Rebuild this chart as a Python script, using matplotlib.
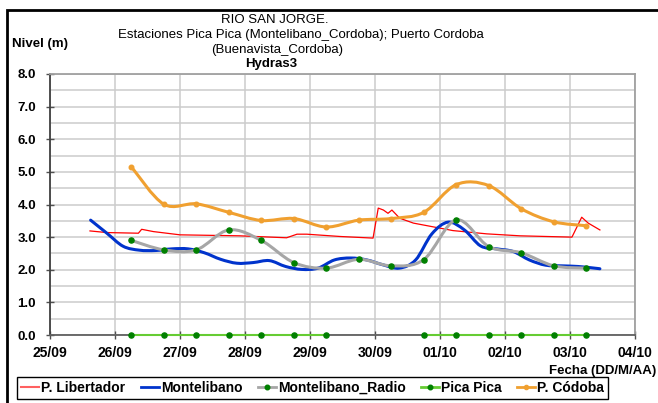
import numpy as np
import matplotlib
matplotlib.use("Agg")
import matplotlib.pyplot as plt
from matplotlib.path import Path
from matplotlib.patches import PathPatch, Rectangle
from matplotlib.lines import Line2D

plt.rcParams['font.family'] = ['Liberation Sans', 'DejaVu Sans']

# time axis: days counted from 25/09 00:00
day_labels = ['25/09', '26/09', '27/09', '28/09', '29/09',
              '30/09', '01/10', '02/10', '03/10', '04/10']

# P. Libertador (sensor, irregular samples)
lib_t = [0.615, 0.872, 1.36, 1.41, 1.59, 2.0, 2.92, 3.64, 3.80, 3.95, 4.46,
         4.97, 5.05, 5.13, 5.20, 5.26, 5.38, 5.59, 6.20, 6.72, 7.23, 8.03,
         8.18, 8.28, 8.46]
lib_v = [3.19, 3.14, 3.12, 3.24, 3.17, 3.07, 3.04, 2.98, 3.09, 3.09, 3.02,
         2.97, 3.89, 3.83, 3.73, 3.83, 3.58, 3.43, 3.20, 3.10, 3.04, 3.00,
         3.61, 3.43, 3.22]

# Montelibano (sensor, 6-hourly)
mon_t = [0.625, 0.875, 1.125, 1.375, 1.625, 1.875, 2.125, 2.375, 2.625,
         2.875, 3.125, 3.375, 3.625, 3.875, 4.125, 4.375, 4.625, 4.875,
         5.125, 5.375, 5.625, 5.875, 6.125, 6.375, 6.625, 6.875, 7.125,
         7.375, 7.625, 7.875, 8.125, 8.375, 8.46]
mon_v = [3.52, 3.12, 2.72, 2.60, 2.59, 2.64, 2.64, 2.52, 2.32, 2.20, 2.22,
         2.28, 2.10, 2.01, 2.05, 2.30, 2.36, 2.30, 2.15, 2.05, 2.30, 3.10,
         3.46, 3.22, 2.73, 2.64, 2.56, 2.30, 2.14, 2.12, 2.10, 2.05, 2.03]

# observer readings, 06:00 and 18:00
obs_t = [1.25, 1.75, 2.25, 2.75, 3.25, 3.75, 4.25, 4.75, 5.25, 5.75,
         6.25, 6.75, 7.25, 7.75, 8.25]
radio_v = [2.90, 2.61, 2.61, 3.22, 2.90, 2.22, 2.05, 2.32, 2.12, 2.31,
           3.53, 2.71, 2.52, 2.12, 2.05]
pica_v = [0.0, 0.0, 0.0, 0.0, 0.0, 0.0, 0.0, np.nan, np.nan, 0.0,
          0.0, 0.0, 0.0, 0.0, 0.0]
cordoba_v = [5.16, 4.01, 4.02, 3.76, 3.51, 3.57, 3.31, 3.52, 3.57, 3.76,
             4.61, 4.58, 3.87, 3.47, 3.35]


def smooth_path(x, y):
    # cubic bezier through every point (Catmull-Rom style tangents)
    p = np.column_stack([x, y]).astype(float)
    verts = [p[0]]
    codes = [Path.MOVETO]
    n = len(p)
    for i in range(n - 1):
        p0 = p[i - 1] if i > 0 else p[i]
        p3 = p[i + 2] if i + 2 < n else p[i + 1]
        c1 = p[i] + (p[i + 1] - p0) / 6.0
        c2 = p[i + 1] - (p3 - p[i]) / 6.0
        verts += [c1, c2, p[i + 1]]
        codes += [Path.CURVE4] * 3
    return Path(verts, codes)


def smooth_line(ax, x, y, color, lw, z):
    ax.add_patch(PathPatch(smooth_path(x, y), fill=False, edgecolor=color,
                           lw=lw, zorder=z, capstyle='round', joinstyle='round'))


c_red = '#ff0000'
c_blue = '#0033cc'
c_gray = '#a6a6a6'
c_dkgreen = '#008000'
c_green = '#66cc33'
c_orange = '#f0a030'

fig = plt.figure(figsize=(6.58, 4.03), dpi=100)
ax = fig.add_axes([50 / 658, 1 - 335 / 403, 585 / 658, 261 / 403])

ax.plot(lib_t, lib_v, color=c_red, lw=0.9, zorder=3)
smooth_line(ax, mon_t, mon_v, c_blue, 2.2, 4)
smooth_line(ax, obs_t, radio_v, c_gray, 2.2, 5)
ax.plot(obs_t, radio_v, 'o', color=c_dkgreen, ms=3.7, zorder=6)
ax.plot(obs_t, pica_v, '-', color=c_green, lw=1.5, zorder=6, clip_on=False)
ax.plot(obs_t, pica_v, 'o', color=c_dkgreen, ms=3.7, zorder=7, clip_on=False)
smooth_line(ax, obs_t, cordoba_v, c_orange, 2.2, 6)
ax.plot(obs_t, cordoba_v, 'o', color=c_orange, ms=3.3, zorder=7)

ax.set_xlim(0, 9)
ax.set_ylim(0, 8)
ax.set_xticks(np.arange(10))
ax.set_xticklabels(day_labels)
ax.set_yticks(np.arange(0, 8.5, 1.0))
ax.set_yticklabels(['%.1f' % v for v in np.arange(0, 8.5, 1.0)])
ax.set_yticks(np.arange(0.5, 8, 1.0), minor=True)

ax.grid(True, which='major', color='#cccccc', lw=1.1, zorder=0)
ax.grid(True, which='minor', axis='y', color='#cccccc', lw=1.1, zorder=0)
ax.set_axisbelow(True)
ax.tick_params(axis='y', which='minor', length=0)
ax.tick_params(axis='both', which='major', direction='inout', length=6,
               width=1, color='#505050')
ax.tick_params(axis='x', labelsize=10, pad=5)
ax.tick_params(axis='y', labelsize=9.5, pad=7)
for lab in ax.get_xticklabels() + ax.get_yticklabels():
    lab.set_fontweight('bold')

ax.spines['left'].set_color('#404040')
ax.spines['left'].set_linewidth(1.3)
ax.spines['bottom'].set_color('#606060')
ax.spines['bottom'].set_linewidth(1.3)
ax.spines['top'].set_color('#a0a0a0')
ax.spines['right'].set_color('#a0a0a0')
ax.spines['top'].set_linewidth(1.3)
ax.spines['right'].set_linewidth(1.3)

# titles
fig.text(275 / 658, 1 - 20 / 403, 'RIO SAN JORGE.', ha='center', va='center', fontsize=9.5)
fig.text(301 / 658, 1 - 35 / 403,
         'Estaciones Pica Pica (Montelibano_Cordoba); Puerto Cordoba',
         ha='center', va='center', fontsize=9.5)
fig.text(277 / 658, 1 - 50 / 403, '(Buenavista_Cordoba)', ha='center', va='center', fontsize=9.5)
fig.text(271 / 658, 1 - 64 / 403, 'Hydras3', ha='center', va='center',
         fontsize=9.5, fontweight='bold')
fig.text(12 / 658, 1 - 44 / 403, 'Nivel (m)', ha='left', va='center',
         fontsize=9.5, fontweight='bold')
fig.text(656 / 658, 1 - 371 / 403, 'Fecha (DD/M/AA)', ha='right', va='center',
         fontsize=9.5, fontweight='bold')

handles = [
    Line2D([], [], color='#ff6060', lw=1.5),
    Line2D([], [], color=c_blue, lw=2),
    Line2D([], [], color=c_gray, lw=2, marker='o', ms=3.3, mfc=c_dkgreen, mec=c_dkgreen),
    Line2D([], [], color=c_green, lw=2, marker='o', ms=3.3, mfc=c_dkgreen, mec=c_dkgreen),
    Line2D([], [], color=c_orange, lw=2, marker='o', ms=3, mfc=c_orange, mec=c_orange),
]
names = ['P. Libertador', 'Montelibano', 'Montelibano_Radio', 'Pica Pica', 'P. Códoba']
leg = fig.legend(handles, names, loc='lower left',
                 bbox_to_anchor=(17 / 658, 1 - 399 / 403), borderaxespad=0,
                 ncol=5, fancybox=False, framealpha=1, edgecolor='black',
                 prop={'weight': 'bold', 'size': 10}, handlelength=1.3,
                 handletextpad=0.15, columnspacing=1.1, borderpad=0.3)
leg.get_frame().set_linewidth(1.0)

# outer chart frame
fig.add_artist(Rectangle((7 / 658, -0.1), 1.2, 1.1 - 10 / 403, fill=False,
                         edgecolor='black', lw=2, transform=fig.transFigure))

fig.savefig('out.png', dpi=100)
